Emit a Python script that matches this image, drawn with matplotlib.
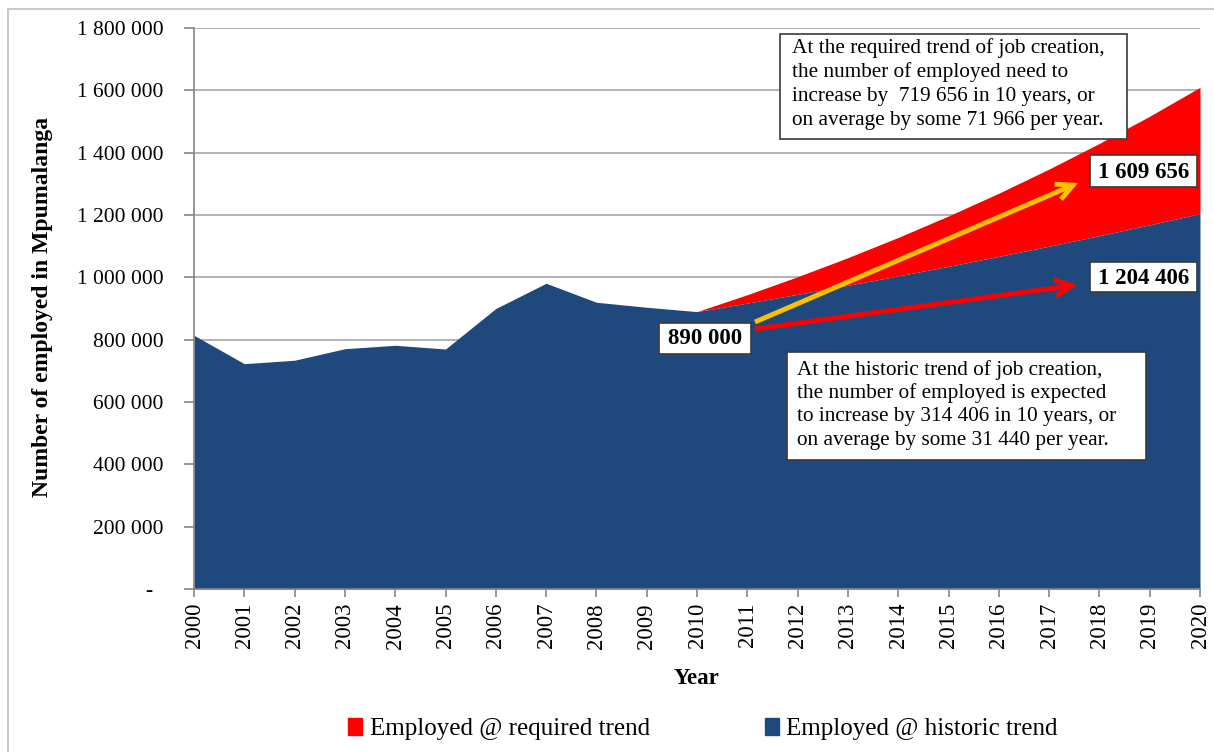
import matplotlib
matplotlib.use('Agg')
import matplotlib.pyplot as plt
from matplotlib.patches import Rectangle, FancyArrowPatch, Patch
from matplotlib.ticker import FuncFormatter, MultipleLocator

plt.rcParams['font.family'] = ['Liberation Serif', 'DejaVu Serif']

years = list(range(2000, 2021))
historic = [814000, 723000, 734000, 771000, 782000, 770000, 900000, 981000, 920000, 904000,
            890000, 917335, 945510, 974550, 1004483, 1035335, 1067135, 1099911, 1133694,
            1168515, 1204406]
required = [814000, 723000, 734000, 771000, 782000, 770000, 900000, 981000, 920000, 904000,
            890000, 944330, 1001975, 1063140, 1128036, 1196893, 1269953, 1347474, 1429727,
            1517001, 1609656]
series_names = ['Employed @ required trend', 'Employed @ historic trend']
start_label = '890 000'
end_required_label = '1 609 656'
end_historic_label = '1 204 406'
required_note = ['At the required trend of job creation,',
                 'the number of employed need to',
                 'increase by  719 656 in 10 years, or',
                 'on average by some 71 966 per year.']
historic_note = ['At the historic trend of job creation,',
                 'the number of employed is expected',
                 'to increase by 314 406 in 10 years, or',
                 'on average by some 31 440 per year.']

BLUE = '#1F497D'
RED = '#FF0000'
YELLOW = '#FFC000'
GRID = '#A6A6A6'
AXC = '#868686'

W, H = 1214, 752
fig = plt.figure(figsize=(W / 100, H / 100), dpi=100)
ax = fig.add_axes([194 / W, 1 - 589 / H, (1200 - 194) / W, (589 - 28) / H])

ax.fill_between(years, 0, historic, color=BLUE, lw=0, zorder=3)
ax.fill_between(years, historic, required, color=RED, lw=0, zorder=2)
ax.set_xlim(2000, 2020)
ax.set_ylim(0, 1800000)
ax.yaxis.set_major_locator(MultipleLocator(200000))
ax.yaxis.set_major_formatter(FuncFormatter(
    lambda v, p: '-  ' if v == 0 else f'{int(v):,}'.replace(',', ' ')))
ax.set_xticks(years)
ax.set_xticklabels([str(y) for y in years], rotation=90)
ax.grid(axis='y', color=GRID, lw=1.2, zorder=1)
ax.set_axisbelow(True)
for s in ['top', 'right']:
    ax.spines[s].set_visible(False)
for s in ['left', 'bottom']:
    ax.spines[s].set_color(AXC)
    ax.spines[s].set_linewidth(1.2)
    ax.spines[s].set_zorder(4)
ax.tick_params(axis='y', direction='out', length=7, color=AXC, width=1.2, pad=15, labelsize=15.5)
ax.tick_params(axis='x', direction='out', length=6, color=AXC, width=1.2, pad=4, labelsize=16.5)

fig.text(43 / W, 1 - 307 / H, 'Number of employed in Mpumalanga', rotation=90,
         ha='center', va='center', fontsize=17, fontweight='bold')
fig.text(697 / W, 1 - 679 / H, 'Year', ha='center', va='center', fontsize=16.5, fontweight='bold')

handles = [Patch(color=RED, label=series_names[0]), Patch(color=BLUE, label=series_names[1])]
fig.legend(handles=handles, loc='center', bbox_to_anchor=(703 / W, 1 - 729 / H), ncol=2,
           frameon=False, fontsize=18, handlelength=0.55, handleheight=0.7,
           handletextpad=0.3, columnspacing=4.6)


def px(x, y):
    return (x / W, 1 - y / H)


def box(x0, y0, x1, y1):
    fig.add_artist(Rectangle(px(x0, y1), (x1 - x0) / W, (y1 - y0) / H,
                             transform=fig.transFigure, fc='white', ec='#3A3A3A',
                             lw=1.2, zorder=6))


def arrow(p0, p1, color):
    fig.add_artist(FancyArrowPatch(px(*p0), px(*p1), transform=fig.transFigure,
                                   arrowstyle='->', color=color, lw=3.5,
                                   mutation_scale=30, shrinkA=0, shrinkB=0,
                                   joinstyle='miter', capstyle='butt', zorder=7))


arrow((755, 322), (1078, 183), YELLOW)
arrow((755, 329), (1077, 285), RED)

box(780, 34, 1127, 139)
for i, line in enumerate(required_note):
    fig.text(*px(792, 48 + 24.2 * i), line, ha='left', va='center', fontsize=15.3, zorder=8)

box(787, 352, 1146, 460)
for i, line in enumerate(historic_note):
    fig.text(*px(797, 370 + 23.5 * i), line, ha='left', va='center', fontsize=15.3, zorder=8)

box(1090, 155, 1197, 187)
fig.text(*px(1143.5, 172), end_required_label, ha='center', va='center', fontsize=16.5,
         fontweight='bold', zorder=8)
box(1090, 262, 1197, 292)
fig.text(*px(1143.5, 278), end_historic_label, ha='center', va='center', fontsize=16.5,
         fontweight='bold', zorder=8)
box(659, 323, 751, 354)
fig.text(*px(705, 339), start_label, ha='center', va='center', fontsize=16.5,
         fontweight='bold', zorder=8)

fig.add_artist(Rectangle(px(8, 800), 1.2, (800 - 9) / H, transform=fig.transFigure,
                         fc='none', ec='#C8C8C8', lw=1.5, zorder=0))

fig.savefig('out.png', dpi=100)
